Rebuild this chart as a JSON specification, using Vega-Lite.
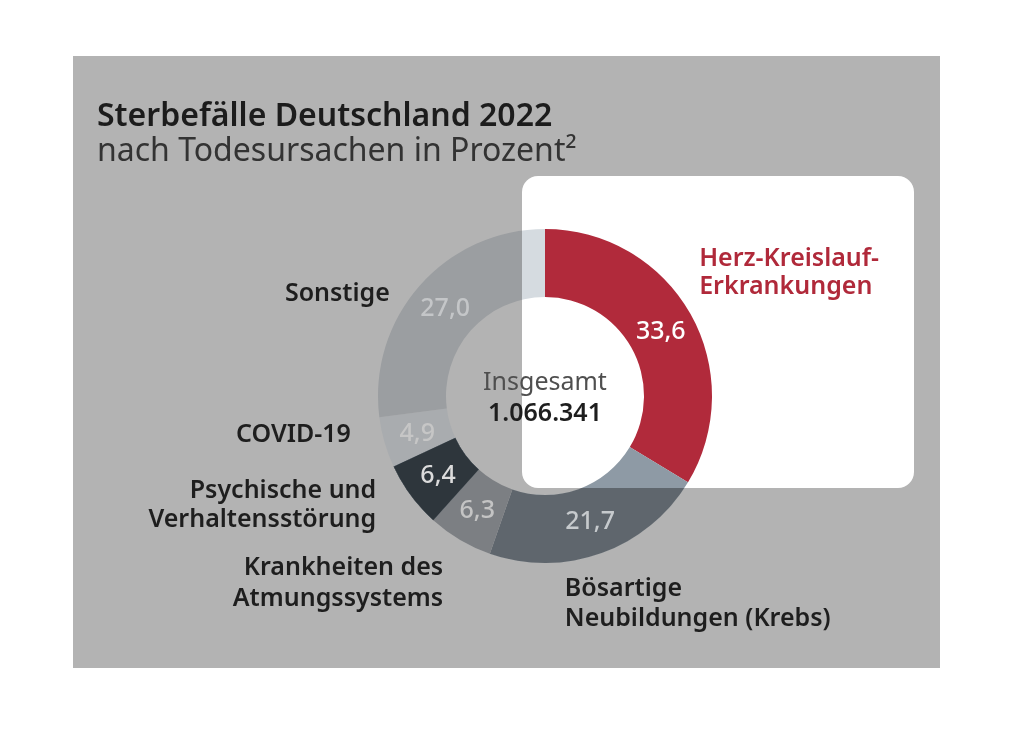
{
  "$schema": "https://vega.github.io/schema/vega-lite/v6.json",
  "width": 867,
  "height": 612,
  "autosize": {"type": "none"},
  "padding": {"left": 73, "top": 56, "right": 84, "bottom": 71},
  "background": "#ffffff",
  "view": {"fill": "#b3b3b3", "stroke": null},
  "config": {"font": "Noto Sans"},
  "title": {
    "text": "Sterbefälle Deutschland 2022",
    "subtitle": "nach Todesursachen in Prozent²",
    "anchor": "start",
    "frame": "group",
    "orient": "top",
    "offset": -112,
    "dx": 24,
    "font": "Noto Sans",
    "fontSize": 32,
    "fontWeight": 600,
    "color": "#1c1c1c",
    "subtitleFont": "Noto Sans",
    "subtitleFontSize": 32,
    "subtitleColor": "#333333",
    "subtitleFontWeight": "normal",
    "subtitlePadding": 3
  },
  "data": {
    "values": [
      {"cat": "Herz-Kreislauf-Erkrankungen", "label": "Herz-Kreislauf-\nErkrankungen", "v": 33.6, "txt": "33,6", "n": 1},
      {"cat": "Bösartige Neubildungen (Krebs)", "label": "Bösartige\nNeubildungen (Krebs)", "v": 21.7, "txt": "21,7", "n": 2},
      {"cat": "Krankheiten des Atmungssystems", "label": "Krankheiten des\nAtmungssystems", "v": 6.3, "txt": "6,3", "n": 3},
      {"cat": "Psychische und Verhaltensstörung", "label": "Psychische und\nVerhaltensstörung", "v": 6.4, "txt": "6,4", "n": 4},
      {"cat": "COVID-19", "label": "COVID-19", "v": 4.9, "txt": "4,9", "n": 5},
      {"cat": "Sonstige", "label": "Sonstige", "v": 27.0, "txt": "27,0", "n": 6}
    ]
  },
  "resolve": {"scale": {"color": "independent"}},
  "layer": [
    {
      "mark": {"type": "arc", "innerRadius": 99, "outerRadius": 167, "x": 472, "y": 340},
      "encoding": {
        "theta": {"field": "v", "type": "quantitative", "stack": true},
        "order": {"field": "n", "type": "quantitative"},
        "color": {
          "field": "cat", "type": "nominal", "legend": null,
          "scale": {
            "domain": ["Herz-Kreislauf-Erkrankungen", "Bösartige Neubildungen (Krebs)", "Krankheiten des Atmungssystems", "Psychische und Verhaltensstörung", "COVID-19", "Sonstige"],
            "range": ["#7c1d29", "#5f666d", "#7c7f83", "#2e363c", "#a9acaf", "#9b9ea1"]
          }
        }
      }
    },
    {
      "data": {"values": [{}]},
      "mark": {"type": "rect", "x": 449, "x2": 841, "y": 120, "y2": 432, "cornerRadius": 16, "fill": "#ffffff"},
      "encoding": {}
    },
    {
      "mark": {"type": "arc", "innerRadius": 99, "outerRadius": 167, "x": 472, "y": 340, "blend": "darken"},
      "encoding": {
        "theta": {"field": "v", "type": "quantitative", "stack": true},
        "order": {"field": "n", "type": "quantitative"},
        "color": {
          "field": "cat", "type": "nominal", "legend": null,
          "scale": {
            "domain": ["Herz-Kreislauf-Erkrankungen", "Bösartige Neubildungen (Krebs)", "Krankheiten des Atmungssystems", "Psychische und Verhaltensstörung", "COVID-19", "Sonstige"],
            "range": ["#b12a3b", "#8e9aa5", "#b0b4b9", "#424d56", "#f0f4f8", "#d5dbe0"]
          }
        }
      }
    },
    {
      "mark": {"type": "text", "radius": 133, "x": 472, "y": 340, "fontSize": 25, "fontWeight": 500, "font": "Noto Sans"},
      "encoding": {
        "theta": {"field": "v", "type": "quantitative", "stack": true},
        "order": {"field": "n", "type": "quantitative"},
        "text": {"field": "txt"},
        "color": {
          "field": "cat", "type": "nominal", "legend": null,
          "scale": {
            "domain": ["Herz-Kreislauf-Erkrankungen", "Bösartige Neubildungen (Krebs)", "Krankheiten des Atmungssystems", "Psychische und Verhaltensstörung", "COVID-19", "Sonstige"],
            "range": ["#ffffff", "#c6cacd", "#c4c4c4", "#dcdcdc", "#c6c6c6", "#c4c6c8"]
          }
        }
      }
    },
    {
      "mark": {"type": "text", "radius": 200, "x": 472, "y": 340, "align": "left", "baseline": "middle", "dx": -20, "dy": -40, "lineBreak": "\n", "lineHeight": 28, "fontSize": 25, "fontWeight": 600, "color": "#b0293a"},
      "encoding": {
        "theta": {"field": "v", "type": "quantitative", "stack": true},
        "order": {"field": "n", "type": "quantitative"},
        "text": {"condition": {"test": "datum.n === 1", "field": "label"}, "value": ""}
      }
    },
    {
      "mark": {"type": "text", "radius": 200, "x": 472, "y": 340, "align": "left", "baseline": "middle", "dx": -48, "dy": 4, "lineBreak": "\n", "lineHeight": 30, "fontSize": 25, "fontWeight": 600, "color": "#1e1e1e"},
      "encoding": {
        "theta": {"field": "v", "type": "quantitative", "stack": true},
        "order": {"field": "n", "type": "quantitative"},
        "text": {"condition": {"test": "datum.n === 2", "field": "label"}, "value": ""}
      }
    },
    {
      "mark": {"type": "text", "radius": 200, "x": 472, "y": 340, "align": "right", "baseline": "middle", "dx": 0, "dy": -1, "lineBreak": "\n", "lineHeight": 31, "fontSize": 25, "fontWeight": 600, "color": "#1e1e1e"},
      "encoding": {
        "theta": {"field": "v", "type": "quantitative", "stack": true},
        "order": {"field": "n", "type": "quantitative"},
        "text": {"condition": {"test": "datum.n === 3", "field": "label"}, "value": ""}
      }
    },
    {
      "mark": {"type": "text", "radius": 200, "x": 472, "y": 340, "align": "right", "baseline": "middle", "dx": -8, "dy": -25, "lineBreak": "\n", "lineHeight": 29, "fontSize": 25, "fontWeight": 600, "color": "#1e1e1e"},
      "encoding": {
        "theta": {"field": "v", "type": "quantitative", "stack": true},
        "order": {"field": "n", "type": "quantitative"},
        "text": {"condition": {"test": "datum.n === 4", "field": "label"}, "value": ""}
      }
    },
    {
      "mark": {"type": "text", "radius": 200, "x": 472, "y": 340, "align": "right", "baseline": "middle", "dx": -2, "dy": -18, "fontSize": 25, "fontWeight": 600, "color": "#1e1e1e"},
      "encoding": {
        "theta": {"field": "v", "type": "quantitative", "stack": true},
        "order": {"field": "n", "type": "quantitative"},
        "text": {"condition": {"test": "datum.n === 5", "field": "label"}, "value": ""}
      }
    },
    {
      "mark": {"type": "text", "radius": 200, "x": 472, "y": 340, "align": "right", "baseline": "middle", "dx": -5, "dy": 29, "fontSize": 25, "fontWeight": 600, "color": "#1e1e1e"},
      "encoding": {
        "theta": {"field": "v", "type": "quantitative", "stack": true},
        "order": {"field": "n", "type": "quantitative"},
        "text": {"condition": {"test": "datum.n === 6", "field": "label"}, "value": ""}
      }
    },
    {
      "data": {"values": [{"caption": "Insgesamt", "total": "1.066.341"}]},
      "mark": {"type": "text", "x": 472, "y": 340, "dy": -14, "align": "center", "baseline": "middle", "fontSize": 25, "fontWeight": "normal", "color": "#4f4f4f"},
      "encoding": {"text": {"field": "caption"}}
    },
    {
      "data": {"values": [{"caption": "Insgesamt", "total": "1.066.341"}]},
      "mark": {"type": "text", "x": 472, "y": 340, "dy": 17, "align": "center", "baseline": "middle", "fontSize": 25, "fontWeight": 600, "color": "#1e1e1e"},
      "encoding": {"text": {"field": "total"}}
    }
  ]
}
